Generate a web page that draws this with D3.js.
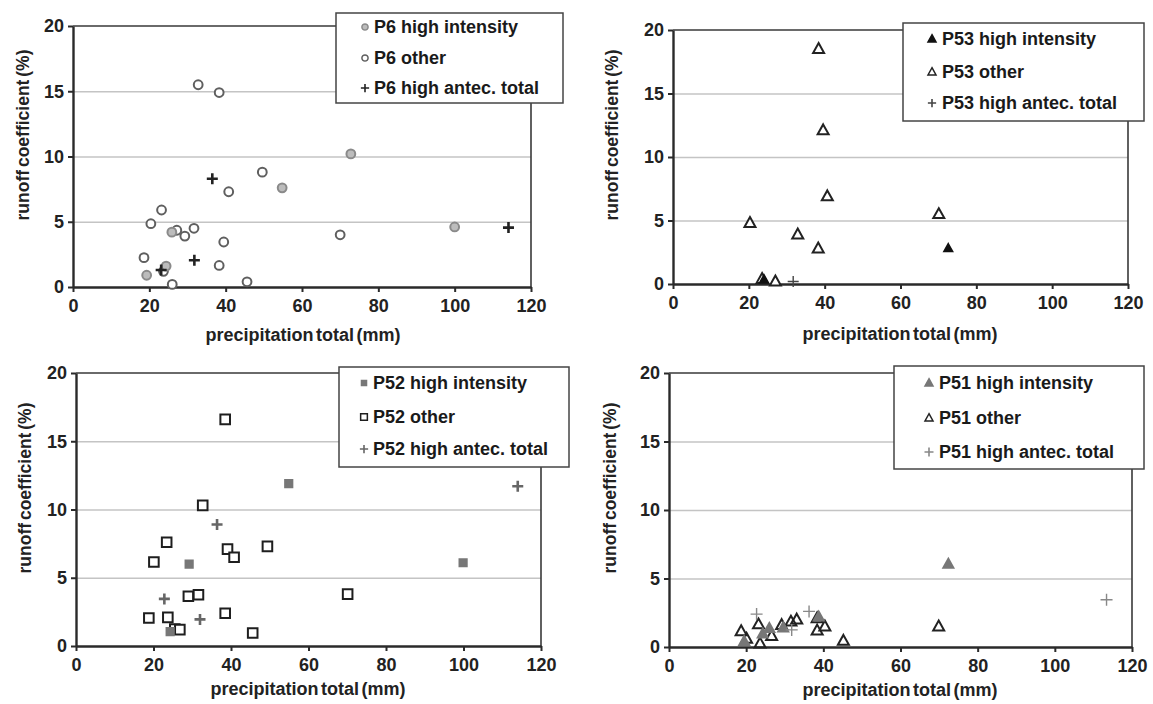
<!DOCTYPE html>
<html>
<head>
<meta charset="utf-8">
<script src="https://cdn.jsdelivr.net/npm/d3@7"></script>
<style>
  body { margin: 0; background: #fff; }
  svg { display: block; font-family: "Liberation Sans", Arial, sans-serif; }
  .tick text { font-weight: bold; fill: #222; font-family: "Liberation Sans", Arial, sans-serif; }
</style>
</head>
<body>
<svg id="chart" width="1153" height="704"></svg>
<script>
// axis ticks shared by all four plots
var xTicks = [0, 20, 40, 60, 80, 100, 120];
var yTicks = [0, 5, 10, 15, 20];

// plot P6 (precipitation total mm, runoff coefficient %)
var p6High = [[25.9, 4.2], [24.4, 1.6], [19.3, 0.9], [54.8, 7.6], [72.8, 10.2], [100, 4.6]];
var p6Other = [[32.8, 15.5], [38.3, 14.9], [49.6, 8.8], [40.8, 7.3], [23.2, 5.9], [20.4, 4.85],
               [27.2, 4.35], [31.7, 4.5], [29.3, 3.9], [39.5, 3.45], [18.6, 2.25], [38.3, 1.65],
               [23.7, 1.2], [26, 0.2], [45.6, 0.4], [70, 4.0]];
var p6Antec = [[36.5, 8.3], [31.8, 2.05], [23.1, 1.3], [114.1, 4.55]];

// plot P53
var p53High = [[72.6, 2.8], [24, 0.35]];
var p53Other = [[38.4, 18.5], [39.6, 12.1], [40.7, 6.9], [20.3, 4.8], [32.9, 3.9], [38.3, 2.8],
                [23.5, 0.4], [27, 0.2], [70.1, 5.5]];
var p53Antec = [[31.7, 0.2]];

// plot P52
var p52High = [[54.9, 11.9], [29.2, 6.0], [24.3, 1.05], [99.9, 6.1]];
var p52Other = [[38.5, 16.6], [32.7, 10.3], [23.4, 7.6], [20.1, 6.15], [39.1, 7.1], [40.8, 6.5],
                [49.4, 7.3], [29, 3.65], [31.6, 3.75], [18.8, 2.05], [23.7, 2.1], [38.5, 2.4],
                [25.5, 1.25], [26.8, 1.2], [45.6, 0.95], [70.1, 3.8]];
var p52Antec = [[36.4, 8.9], [22.8, 3.45], [32, 1.95], [114, 11.7]];

// plot P51
var p51High = [[19.5, 0.4], [24.3, 0.95], [26, 1.35], [29.6, 1.4], [38.8, 2.2], [72.4, 6.05]];
var p51Other = [[18.7, 1.15], [20.1, 0.6], [23.2, 1.65], [23.6, 0.25], [26.6, 0.8], [29.2, 1.6],
                [31.6, 1.85], [33.1, 2.0], [38.4, 2.1], [38.4, 1.2], [40.4, 1.5], [45.2, 0.45],
                [69.9, 1.5]];
var p51Antec = [[22.7, 2.4], [31.8, 1.25], [36.3, 2.6], [113.4, 3.45]];

var svg = d3.select("#chart");

// panel boxes and legend placement
var panels = [
  {left: 73, right: 531, top: 26, bottom: 287, titleX: 23, titleY: 135, xTitle: [303, 341],
   legend: {x: 336, y: 13, w: 227, h: 90, rows: [27, 58, 88], mx: 365, tx: 374},
   series: [
     {name: "P6 high intensity", data: p6High, shape: "circle", fill: "#bcbcbc", stroke: "#8a8a8a", size: 4.4},
     {name: "P6 other", data: p6Other, shape: "circle", fill: "#fff", stroke: "#5f5f5f", size: 4.4},
     {name: "P6 high antec. total", data: p6Antec, shape: "plus", fill: "none", stroke: "#222", size: 5.5, width: 2.6}
   ]},
  {left: 673, right: 1128, top: 30, bottom: 284, titleX: 612, titleY: 135, xTitle: [900, 340],
   legend: {x: 903, y: 23, w: 241, h: 98, rows: [39, 72, 103], mx: 932, tx: 942},
   series: [
     {name: "P53 high intensity", data: p53High, shape: "triangle", fill: "#111", stroke: "#111", size: 4},
     {name: "P53 other", data: p53Other, shape: "triangle", fill: "#fff", stroke: "#222", size: 5.5},
     {name: "P53 high antec. total", data: p53Antec, shape: "plus", fill: "none", stroke: "#444", size: 5.5, width: 1.4}
   ]},
  {left: 76, right: 541, top: 373, bottom: 646, titleX: 25, titleY: 488, xTitle: [308, 695],
   legend: {x: 339, y: 367, w: 230, h: 100, rows: [383, 417, 449], mx: 364, tx: 373},
   series: [
     {name: "P52 high intensity", data: p52High, shape: "square", fill: "#777", stroke: "#777", size: 3.6},
     {name: "P52 other", data: p52Other, shape: "square", fill: "#fff", stroke: "#1e1e1e", size: 4.8},
     {name: "P52 high antec. total", data: p52Antec, shape: "plus", fill: "none", stroke: "#666", size: 5.5, width: 2.6}
   ]},
  {left: 669, right: 1132, top: 373, bottom: 647, titleX: 610, titleY: 488, xTitle: [900, 696],
   legend: {x: 894, y: 366, w: 250, h: 103, rows: [383, 418, 452], mx: 929, tx: 939},
   series: [
     {name: "P51 high intensity", data: p51High, shape: "triangle", fill: "#777", stroke: "#777", size: 5},
     {name: "P51 other", data: p51Other, shape: "triangle", fill: "none", stroke: "#222", size: 5.5},
     {name: "P51 high antec. total", data: p51Antec, shape: "plus", fill: "none", stroke: "#888", size: 6, width: 1.4}
   ]}
];

panels.forEach(drawPanel);

// draw one marker path string for a shape
function markerPath(shape, s) {
  if (shape == "circle") {
    return "M" + (-s) + ",0a" + s + "," + s + " 0 1,0 " + (2 * s) + ",0a" + s + "," + s + " 0 1,0 " + (-2 * s) + ",0Z";
  }
  if (shape == "square") {
    return "M" + (-s) + "," + (-s) + "H" + s + "V" + s + "H" + (-s) + "Z";
  }
  if (shape == "triangle") {
    var h = s * 1.8;
    return "M0," + (-h * 0.6) + "L" + (s) + "," + (h * 0.4) + "L" + (-s) + "," + (h * 0.4) + "Z";
  }
  // plus
  return "M" + (-s) + ",0H" + s + "M0," + (-s) + "V" + s;
}

function drawPanel(p) {
  var x = d3.scaleLinear().domain([0, 120]).range([p.left, p.right]);
  var y = d3.scaleLinear().domain([0, 20]).range([p.bottom, p.top]);
  var g = svg.append("g");

  // gridlines
  g.append("g")
    .attr("transform", "translate(" + p.left + ",0)")
    .call(d3.axisLeft(y).tickValues(yTicks.slice(1, 4)).tickSize(-(p.right - p.left)).tickFormat(""))
    .call(function(a) {
      a.select(".domain").remove();
      a.selectAll("line").attr("stroke", "#c4c4c4").attr("stroke-width", 1.5);
    });

  // frame top and right
  g.append("path")
    .attr("d", "M" + p.left + "," + p.top + "H" + p.right + "V" + p.bottom)
    .attr("fill", "none").attr("stroke", "#3a3a3a").attr("stroke-width", 1.6);

  // axes
  g.append("g")
    .attr("transform", "translate(0," + p.bottom + ")")
    .call(d3.axisBottom(x).tickValues(xTicks).tickSize(5).tickPadding(7).tickSizeOuter(0))
    .call(function(a) {
      a.select(".domain").attr("stroke", "#2a2a2a").attr("stroke-width", 2.4);
      a.selectAll("line").attr("stroke", "#2a2a2a").attr("stroke-width", 2);
      a.selectAll("text").style("font-size", "18px");
    });
  g.append("g")
    .attr("transform", "translate(" + p.left + ",0)")
    .call(d3.axisLeft(y).tickValues(yTicks).tickSize(5).tickPadding(4).tickSizeOuter(0))
    .call(function(a) {
      a.select(".domain").attr("stroke", "#2a2a2a").attr("stroke-width", 2.4);
      a.selectAll("line").attr("stroke", "#2a2a2a").attr("stroke-width", 2);
      a.selectAll("text").style("font-size", "18px");
    });

  // axis titles
  g.append("text")
    .attr("transform", "translate(" + p.titleX + "," + p.titleY + ") rotate(-90)")
    .attr("dy", "0.35em")
    .attr("text-anchor", "middle")
    .style("font-size", "17.5px").style("font-weight", "bold").attr("fill", "#222")
    .style("word-spacing", "-2px")
    .text("runoff coefficient (%)");
  g.append("text")
    .attr("x", p.xTitle[0]).attr("y", p.xTitle[1])
    .attr("text-anchor", "middle")
    .style("font-size", "18px").style("font-weight", "bold").attr("fill", "#222")
    .style("word-spacing", "-2.5px")
    .text("precipitation total (mm)");

  // points, "other" first so the filled markers sit on top like the original
  var order = [1, 0, 2];
  order.forEach(function(i) {
    var s = p.series[i];
    g.append("g").selectAll("path")
      .data(s.data)
      .enter().append("path")
      .attr("transform", function(d) { return "translate(" + x(d[0]) + "," + y(d[1]) + ")"; })
      .attr("d", markerPath(s.shape, s.size))
      .attr("fill", s.fill)
      .attr("stroke", s.stroke)
      .attr("stroke-width", s.width || 2);
  });

  // legend
  var L = p.legend;
  var lg = g.append("g");
  lg.append("rect")
    .attr("x", L.x).attr("y", L.y).attr("width", L.w).attr("height", L.h)
    .attr("fill", "#fff").attr("stroke", "#444").attr("stroke-width", 1.5);
  p.series.forEach(function(s, i) {
    var scale = s.shape == "plus" ? 0.75 : (s.shape == "triangle" ? 4 / s.size : 0.7);
    lg.append("path")
      .attr("transform", "translate(" + L.mx + "," + L.rows[i] + ")")
      .attr("d", markerPath(s.shape, s.size * scale))
      .attr("fill", s.fill)
      .attr("stroke", s.stroke)
      .attr("stroke-width", s.shape == "plus" ? 1.6 : 1.5);
    lg.append("text")
      .attr("x", L.tx).attr("y", L.rows[i])
      .attr("dy", "0.36em")
      .style("font-size", "18px").style("font-weight", "bold").attr("fill", "#1a1a1a")
      .text(s.name);
  });
}
</script>
</body>
</html>
